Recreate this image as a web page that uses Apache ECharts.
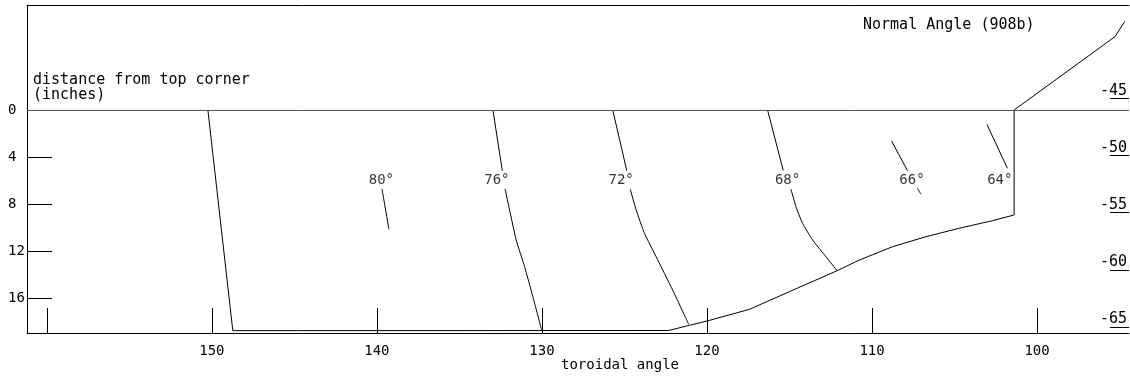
<!DOCTYPE html>
<html>
<head>
<meta charset="utf-8">
<script src="https://cdn.jsdelivr.net/npm/echarts@6/dist/echarts.min.js"></script>
<style>
html,body{margin:0;padding:0;background:#fff;}
#chart{width:1130px;height:377px;}
</style>
</head>
<body>
<div id="chart"></div>
<script>
// ---- axis ticks / labels ----
const xTicks = [160, 150, 140, 130, 120, 110, 100];
const xTickLabels = [150, 140, 130, 120, 110, 100];
const depthTicks = [4, 8, 12, 16];
const depthLabels = [0, 4, 8, 12, 16];
const normalTicks = [-45, -50, -55, -60, -65];

// ---- boundary outline [toroidal angle, depth inches] ----
const boundary = [[150.24, 0], [148.73, 18.75], [122.34, 18.74], [121.07, 18.30], [119.99, 17.93],
  [117.43, 16.94], [115.01, 15.44], [112.12, 13.66], [110.77, 12.75], [108.76, 11.62],
  [106.74, 10.77], [104.72, 10.05], [102.71, 9.41], [101.39, 8.92], [101.39, 0],
  [95.28, -6.23], [94.69, -7.52]];

// ---- contour segments ----
const c80 = [[139.69, 6.71], [139.27, 10.14]];
const c76a = [[132.97, 0], [132.40, 5.16]];
const c76b = [[132.23, 6.71], [131.96, 8.50], [131.56, 11.05], [131.05, 13.32], [130.55, 15.87], [130.02, 18.69]];
const c72a = [[125.71, 0], [124.86, 5.16]];
const c72b = [[124.65, 6.74], [124.29, 8.50], [123.79, 10.48], [123.08, 12.47], [122.08, 15.30], [121.11, 18.21]];
const c68a = [[116.33, 0], [115.38, 5.13]];
const c68b = [[114.91, 6.74], [114.61, 8.22], [114.21, 9.63], [113.60, 11.05], [112.79, 12.47], [112.12, 13.66]];
const c66a = [[108.82, 2.63], [107.85, 5.16]];
const c66b = [[107.25, 6.65], [107.04, 7.16]];
const c64 = [[103.04, 1.22], [101.80, 4.95]];

// ---- contour labels ----
const contourLabels = ['80°', '76°', '72°', '68°', '66°', '64°'];
const labelAngle = [139.73, 132.73, 125.20, 115.12, 107.58, 102.26];
const labelDepth = [5.95, 5.95, 5.95, 5.95, 5.95, 5.95];

const FONT = 'DejaVu Sans Mono';
const segments = [boundary, c80, c76a, c76b, c72a, c72b, c68a, c68b, c66a, c66b, c64];

const chart = echarts.init(document.getElementById('chart'), null, {renderer: 'canvas'});
const lineSeries = segments.map((seg, i) => ({
  type: 'line',
  data: seg,
  symbol: 'none',
  silent: true,
  smooth: i === 0 || i % 2 === 1 ? 0.15 : false,
  lineStyle: {color: '#000', width: 1},
  z: 3,
  markLine: i === 0 ? {
    symbol: 'none', silent: true, label: {show: false},
    lineStyle: {color: '#555', width: 1, type: 'solid'},
    data: [{yAxis: 0}]
  } : undefined
}));
lineSeries[0].smooth = false;

const option = {
  animation: false,
  backgroundColor: '#fff',
  textStyle: {fontFamily: FONT},
  title: [
    {text: 'distance from top corner\n(inches)', left: 33, top: 73, padding: 0,
     textStyle: {fontFamily: FONT, fontSize: 15, fontWeight: 'normal', color: '#000', lineHeight: 15}},
    {text: 'Normal Angle (908b)', left: 863, top: 18, padding: 0,
     textStyle: {fontFamily: FONT, fontSize: 15, fontWeight: 'normal', color: '#000'}},
    {text: 'toroidal angle', left: 561, top: 358, padding: 0,
     textStyle: {fontFamily: FONT, fontSize: 14, fontWeight: 'normal', color: '#000'}}
  ],
  grid: {left: 27, right: 0, top: 5, bottom: 44, containLabel: false},
  xAxis: [
    {
      type: 'value', inverse: true, min: 94.43, max: 161.2, position: 'bottom',
      axisLine: {show: true, onZero: false, lineStyle: {color: '#000', width: 1}},
      axisTick: {show: true, inside: true, length: 25, customValues: xTicks, lineStyle: {color: '#000'}},
      axisLabel: {show: true, customValues: xTickLabels, margin: 11, color: '#000', fontFamily: FONT, fontSize: 14},
      splitLine: {show: false}
    },
    {
      type: 'value', position: 'top', min: 0, max: 1,
      axisLine: {show: true, onZero: false, lineStyle: {color: '#000', width: 1}},
      axisTick: {show: false}, axisLabel: {show: false}, splitLine: {show: false}
    }
  ],
  yAxis: [
    {
      type: 'value', inverse: true, min: -8.92, max: 18.95, position: 'left',
      axisLine: {show: true, onZero: false, lineStyle: {color: '#000', width: 1}},
      axisTick: {show: true, inside: true, length: 25, customValues: depthTicks, lineStyle: {color: '#000'}},
      axisLabel: {show: true, customValues: depthLabels, align: 'left', margin: 19, color: '#000', fontFamily: FONT, fontSize: 14},
      splitLine: {show: false}
    },
    {
      type: 'value', min: -65.53, max: -36.84, position: 'right',
      axisLine: {show: false, onZero: false},
      axisTick: {show: true, inside: true, length: 19, customValues: normalTicks, lineStyle: {color: '#000'}},
      axisLabel: {show: true, inside: true, customValues: normalTicks, margin: 2, verticalAlign: 'bottom',
                  color: '#000', fontFamily: FONT, fontSize: 15},
      splitLine: {show: false}
    }
  ],
  series: lineSeries.concat([{
    type: 'scatter',
    symbolSize: 0,
    silent: true,
    data: contourLabels.map((t, i) => ({name: t, value: [labelAngle[i], labelDepth[i]]})),
    label: {show: true, position: 'inside', formatter: p => p.name, color: '#000', fontFamily: FONT, fontSize: 14},
    z: 4
  }])
};
chart.setOption(option);
</script>
</body>
</html>
